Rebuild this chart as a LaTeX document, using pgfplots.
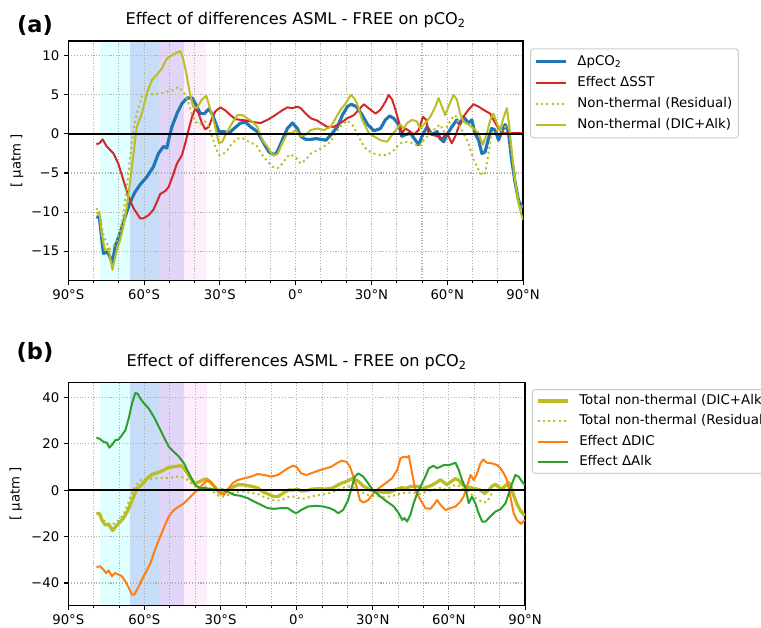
\documentclass[border=0pt]{standalone}
\usepackage{fontspec}
\setmainfont{DejaVu Sans}
\usepackage{pgfplots}
\pgfplotsset{compat=1.18}
\usepackage{pgfplotstable}

\definecolor{tabblue}{HTML}{1F77B4}
\definecolor{tabred}{HTML}{D62728}
\definecolor{tabolive}{HTML}{BCBD22}
\definecolor{taborange}{HTML}{FF7F0E}
\definecolor{tabgreen}{HTML}{2CA02C}
\definecolor{bandcyan}{HTML}{E0FFFF}
\definecolor{bandblue}{HTML}{C6DCF7}
\definecolor{bandpurple}{HTML}{E1D5F8}
\definecolor{bandpink}{HTML}{FCEEFB}
\definecolor{gridgray}{HTML}{B0B0B0}
\definecolor{legendedge}{HTML}{CCCCCC}

% zonal-mean differences, latitude vs value [uatm]
\pgfplotstableread{
lat val
-78.9 -10.6
-77.7 -10.7
-76.1 -15.3
-74.8 -15.1
-73.8 -15.5
-72.5 -16.6
-71.5 -14.4
-69.5 -12.7
-67.5 -10.6
-65.5 -8.7
-63.5 -7.4
-61.6 -6.5
-58.9 -5.5
-56.3 -4.2
-54.3 -2.5
-52.3 -1.6
-51.0 -1.8
-50.3 -0.8
-49.0 0.9
-47.0 2.6
-45.0 3.9
-43.0 4.6
-41.0 4.6
-39.7 3.9
-37.7 2.6
-36.1 2.6
-34.4 3.2
-33.1 2.6
-31.7 1.4
-30.4 0.3
-28.4 0.3
-26.4 0.1
-24.4 0.7
-21.8 1.4
-19.8 1.5
-17.8 0.9
-15.2 0.3
-12.6 -1.2
-10.6 -2.3
-8.6 -2.7
-7.3 -2.3
-5.3 -0.8
-3.3 0.7
-1.3 1.4
0.7 0.7
2.0 -0.3
4.0 -0.7
6.0 -0.7
8.0 -0.6
10.0 -0.7
12.0 -0.8
14.0 -0.1
16.5 0.9
18.5 2.4
20.5 3.5
22.0 3.8
24.0 3.5
26.0 2.6
28.5 1.2
31.0 0.4
33.6 0.7
35.5 1.8
37.2 2.3
38.8 2.0
40.8 1.2
42.0 -0.3
43.4 -0.1
45.4 0.1
47.4 -0.8
48.7 -1.4
50.0 -0.3
52.0 0.9
54.0 -0.1
56.0 0.3
57.2 -0.6
58.6 -1.0
59.9 -0.1
61.8 0.9
63.8 1.8
64.9 1.2
66.4 2.2
68.4 1.4
69.7 1.8
71.0 0.1
72.4 -0.8
73.7 -2.5
75.0 -2.3
76.3 -0.6
77.6 0.7
79.0 0.5
80.3 -0.8
81.6 0.3
82.9 1.2
84.2 0.3
85.5 -3.3
86.8 -6.1
88.2 -8.5
89.9 -9.5
}\dpco

\pgfplotstableread{
lat val
-78.9 -1.3
-77.7 -1.2
-76.4 -0.7
-74.8 -1.6
-72.1 -2.5
-70.2 -3.8
-68.2 -5.9
-66.2 -8.0
-64.2 -9.5
-61.6 -10.8
-60.2 -10.8
-58.2 -10.4
-56.3 -9.7
-54.9 -8.7
-53.6 -7.7
-51.6 -7.3
-50.3 -6.8
-49.0 -5.7
-47.0 -3.8
-45.0 -2.7
-43.7 -1.2
-42.4 0.5
-41.0 2.2
-39.7 3.3
-38.4 2.6
-37.1 1.4
-35.8 0.6
-34.4 0.9
-33.1 2.0
-31.8 2.9
-29.8 3.4
-27.8 3.0
-25.8 2.4
-23.8 1.9
-21.8 1.8
-19.2 1.7
-16.5 1.5
-13.9 1.4
-11.2 1.8
-8.6 2.3
-5.9 2.9
-3.3 3.4
-1.3 3.3
0.7 3.5
2.0 3.3
4.0 2.6
6.0 2.0
8.6 1.7
10.0 1.4
12.5 0.9
15.0 0.9
17.8 1.4
20.4 2.0
23.0 2.4
25.0 3.1
27.0 3.8
29.6 3.1
31.6 2.6
33.6 3.1
35.5 4.1
36.8 5.0
38.2 4.4
39.5 3.1
40.8 1.6
42.1 0.1
43.4 0.7
45.4 0.3
46.7 -0.1
48.7 0.5
50.4 2.2
51.7 1.8
52.6 0.1
54.0 -0.1
56.0 -0.3
57.9 -0.6
59.9 0.1
61.8 -1.2
63.2 -0.3
64.5 0.9
66.4 2.2
68.4 3.1
70.4 3.8
72.4 3.5
74.3 3.1
77.0 2.6
78.3 1.8
80.3 0.7
82.2 0.1
90.0 0.1
}\dsst

\pgfplotstableread{
lat val
-78.9 -10.2
-77.7 -10.0
-76.8 -12.7
-75.5 -14.9
-74.1 -14.7
-72.5 -17.4
-71.1 -15.3
-69.5 -13.6
-68.2 -11.9
-66.8 -9.3
-64.8 -4.2
-62.9 0.9
-60.9 2.6
-58.9 5.2
-56.9 6.9
-54.9 7.6
-52.9 8.4
-50.9 9.7
-49.0 10.1
-47.0 10.4
-45.6 10.6
-44.6 9.7
-43.3 7.8
-42.0 5.4
-40.6 3.5
-39.1 3.3
-37.1 4.4
-35.4 4.9
-33.7 3.1
-31.8 0.9
-30.4 -1.2
-29.1 -1.0
-27.1 0.3
-25.1 1.4
-23.1 2.4
-21.1 2.4
-19.1 2.0
-17.2 1.6
-15.2 0.9
-13.2 -0.8
-11.2 -1.6
-9.2 -2.7
-7.2 -2.6
-5.3 -1.2
-3.3 0.1
-1.3 0.1
0.0 0.5
2.0 -0.3
4.0 -0.1
6.0 0.5
8.6 0.7
11.2 0.5
13.9 0.9
15.8 2.0
17.8 3.1
19.8 3.9
21.8 5.0
23.1 4.6
24.3 3.9
26.3 1.8
29.0 0.1
30.9 -0.3
33.6 -0.8
36.2 -1.0
38.2 -0.1
40.1 0.7
41.4 1.2
42.8 0.7
44.1 1.4
46.1 1.8
48.0 1.6
49.3 0.7
51.3 1.4
53.3 2.2
55.3 3.5
56.6 4.6
57.9 3.5
59.2 2.4
60.5 3.5
62.5 5.0
63.8 4.4
65.1 2.6
66.4 1.6
68.4 1.2
70.4 0.7
72.4 0.1
74.1 -1.4
75.7 0.1
77.0 1.8
78.3 2.6
79.6 1.4
80.9 0.5
82.2 2.0
83.6 3.3
84.6 0.9
85.5 -2.1
86.8 -5.9
88.2 -8.9
89.9 -11.0
}\dnonthermal

\pgfplotstableread{
lat val
-78.8 -9.5
-77.5 -10.6
-76.1 -12.9
-74.8 -14.0
-73.5 -14.7
-72.1 -14.4
-70.8 -13.6
-69.5 -12.3
-68.2 -10.2
-66.8 -6.8
-65.5 -2.9
-64.2 0.5
-62.9 2.6
-60.9 4.8
-58.9 5.0
-56.3 5.1
-53.6 5.2
-51.0 5.4
-48.3 5.6
-46.6 6.0
-45.0 5.6
-43.7 5.0
-42.4 3.9
-41.0 2.4
-39.7 1.6
-38.4 1.2
-37.1 1.4
-35.8 1.6
-34.4 0.9
-33.1 -0.3
-31.8 -1.6
-30.4 -2.7
-29.1 -2.7
-27.1 -2.1
-25.1 -1.2
-23.1 -0.6
-21.1 -0.5
-19.1 -0.9
-17.2 -1.2
-15.2 -1.6
-13.2 -2.7
-11.2 -3.5
-9.2 -4.2
-7.2 -4.4
-5.3 -3.8
-3.3 -2.9
-2.0 -2.6
0.0 -3.0
2.0 -3.8
4.0 -3.3
6.0 -2.5
8.6 -2.1
11.2 -1.6
13.9 -1.0
15.8 0.1
17.8 1.0
20.4 1.7
22.4 1.2
24.3 0.1
26.3 -1.2
28.3 -2.1
30.9 -2.5
33.6 -2.7
36.2 -2.7
38.8 -2.1
41.4 -1.2
44.1 -1.0
46.7 -1.2
48.7 -1.6
50.7 -0.8
53.3 0.1
55.9 0.9
57.2 1.2
58.6 0.3
59.9 0.9
61.8 2.0
63.2 2.4
65.1 0.9
66.4 0.1
68.4 -1.2
70.4 -3.3
72.4 -4.6
73.7 -5.3
75.0 -5.0
76.3 -2.5
77.6 0.1
79.0 0.5
80.9 0.3
82.9 0.9
84.2 0.9
85.5 -2.5
86.8 -5.9
88.2 -8.5
89.9 -9.7
}\dresidual

\pgfplotstableread{
lat val
-78.9 -33.1
-77.5 -32.8
-76.1 -34.3
-75.1 -35.7
-74.1 -34.6
-72.8 -37.1
-71.5 -35.7
-70.2 -36.4
-68.9 -37.1
-67.5 -39.3
-66.2 -42.1
-64.9 -45.0
-64.0 -45.0
-62.9 -42.9
-61.6 -40.0
-60.3 -37.1
-58.9 -34.3
-57.6 -31.4
-56.3 -27.1
-54.3 -21.4
-52.4 -16.3
-50.4 -11.3
-48.4 -8.5
-46.4 -7.0
-44.4 -5.6
-42.4 -3.4
-40.5 -1.3
-39.1 0.1
-37.2 2.3
-35.2 4.2
-33.9 3.7
-31.9 0.9
-29.9 -1.3
-28.6 -2.0
-27.3 0.1
-25.3 3.0
-23.3 4.4
-20.6 5.2
-18.0 5.9
-15.4 7.0
-12.7 6.6
-10.1 5.9
-7.4 6.6
-5.5 8.0
-3.5 9.5
-1.5 10.6
-0.2 10.2
1.8 7.3
3.8 6.6
6.4 7.6
9.1 8.7
11.7 9.5
13.7 10.2
15.7 11.6
17.7 12.8
19.6 12.3
21.0 10.2
22.3 5.9
23.6 1.6
24.9 -4.2
26.2 -5.3
28.2 -4.2
30.2 -1.3
32.4 0.9
35.0 3.0
37.6 5.2
39.6 8.7
40.9 13.8
42.2 14.5
43.5 14.2
44.2 14.8
45.5 7.3
46.8 0.1
48.8 -4.2
50.7 -7.7
52.7 -8.0
54.0 -6.3
55.3 -4.2
56.7 -6.3
58.6 -8.5
60.6 -7.7
62.6 -7.0
64.5 -4.9
65.8 -2.7
67.1 1.6
68.5 6.6
69.8 4.4
71.1 7.3
72.4 11.6
73.5 13.3
75.0 11.9
77.0 11.6
79.0 10.9
80.3 9.5
81.6 7.3
82.9 4.4
84.2 -2.7
85.5 -9.9
86.8 -12.8
88.4 -14.5
89.9 -12.8
}\ddic

\pgfplotstableread{
lat val
-78.9 22.8
-77.5 22.1
-76.1 20.9
-74.8 20.5
-73.8 18.4
-72.8 19.5
-71.5 21.6
-70.2 21.9
-68.9 23.8
-67.5 25.9
-66.2 31.0
-64.9 37.4
-63.6 42.0
-62.7 41.7
-61.6 39.6
-60.3 37.7
-58.3 35.3
-56.3 31.7
-54.3 27.4
-52.4 23.1
-50.4 18.8
-48.4 16.6
-46.4 14.5
-44.4 11.6
-43.1 8.7
-41.8 5.9
-40.5 3.0
-39.1 1.6
-37.8 0.9
-35.8 0.9
-33.9 0.6
-31.2 0.1
-29.2 0.4
-27.3 -0.6
-24.6 -2.0
-22.0 -2.4
-19.3 -3.4
-16.7 -4.9
-14.0 -6.3
-11.4 -7.7
-8.8 -8.0
-6.1 -7.7
-3.5 -7.7
-1.5 -9.2
-0.2 -9.9
1.8 -8.5
4.5 -7.0
7.8 -6.7
10.4 -7.0
13.0 -7.7
15.0 -8.7
16.3 -9.9
18.3 -8.5
20.3 -4.2
21.6 0.9
22.9 5.9
24.3 7.3
26.2 5.9
28.2 3.0
30.0 0.1
33.0 -2.7
35.6 -4.9
38.3 -7.0
40.2 -9.9
41.6 -12.8
42.5 -12.0
43.5 -13.5
44.8 -10.6
46.1 -5.6
47.5 -1.3
48.8 1.6
50.7 5.9
52.1 9.5
54.0 10.6
55.3 9.5
56.7 10.2
58.0 10.9
60.0 10.9
61.2 11.3
62.6 11.9
63.9 8.7
65.2 4.4
66.5 0.9
67.8 -5.6
69.1 -2.7
70.4 -5.6
71.7 -9.9
73.1 -13.5
74.4 -13.5
76.3 -11.3
78.3 -9.2
80.3 -8.2
82.3 -5.6
83.6 -1.3
84.9 3.0
86.2 6.6
87.5 5.9
88.8 3.7
89.9 2.3
}\dalk

\pgfplotsset{
  legend image code/.code={\draw[#1] (0pt,0pt) -- (24pt,0pt);},
  panel/.style={
    scale only axis,
    anchor=north west,
    set layers,
    xmin=-90, xmax=90,
    xtick={-90,-60,-30,0,30,60,90},
    xticklabels={90°S,60°S,30°S,0°,30°N,60°N,90°N},
    minor xtick={-80,-70,-50,-40,-20,-10,10,20,40,50,70,80},
    grid=both,
    major grid style={gridgray, line width=0.85pt, dash pattern=on 0.85pt off 1.4pt},
    minor grid style={gridgray, line width=0.85pt, dash pattern=on 0.85pt off 1.4pt},
    tick align=outside,
    tick pos=left,
    major tick length=3.75pt,
    minor tick length=2.15pt,
    every tick/.style={black, line width=0.85pt},
    minor tick style={black, line width=0.65pt},
    axis line style={black, line width=0.9pt},
    tick label style={font=\fontsize{10.6}{12}\selectfont},
    title style={font=\fontsize{12.9}{15}\selectfont, anchor=base, yshift=7pt},
    ylabel style={font=\fontsize{10.6}{12}\selectfont, anchor=center},
    no markers,
    every axis plot/.append style={line join=round},
    legend cell align=left,
    legend style={anchor=north west, draw=legendedge, line width=0.8pt,
      rounded corners=2.5pt, fill=white,
      font=\fontsize{10.7}{13}\selectfont,
      inner xsep=3pt, column sep=6pt,
      nodes={inner sep=2pt, text height=8pt, text depth=2.5pt}},
  },
  band/.style={draw=none, fill=#1, forget plot, on layer=axis background},
}

\begin{document}
\begin{tikzpicture}
% ---------- panel (a) ----------
\begin{axis}[panel,
  at={(54.64pt,-32.8pt)}, width=363.8pt, height=191.8pt,
  ymin=-18.8, ymax=11.9,
  ytick={-15,-10,-5,0,5,10},
  yticklabels={−15,−10,−5,0,5,10},
  title={Effect of differences ASML - FREE on pCO\textsubscript{2}},
  ylabel={[ µatm ]},
  ylabel style={at={(axis description cs:-0.1127,0.5)}},
  legend style={at={(1.0154,0.9696)}, row sep=2.4pt, inner ysep=3pt},
]
\addplot[band=bandcyan] coordinates {(-77.5,-18.8) (-65.6,-18.8) (-65.6,11.9) (-77.5,11.9)} -- cycle;
\addplot[band=bandblue] coordinates {(-65.6,-18.8) (-54.1,-18.8) (-54.1,11.9) (-65.6,11.9)} -- cycle;
\addplot[band=bandpurple] coordinates {(-54.1,-18.8) (-44.3,-18.8) (-44.3,11.9) (-54.1,11.9)} -- cycle;
\addplot[band=bandpink] coordinates {(-44.3,-18.8) (-35.5,-18.8) (-35.5,11.9) (-44.3,11.9)} -- cycle;

\addplot[tabblue, line width=2.5pt] table[x=lat, y=val] {\dpco};
\addlegendentry{ΔpCO\textsubscript{2}}
\addplot[tabred, line width=1.6pt] table[x=lat, y=val] {\dsst};
\addlegendentry{Effect ΔSST}
\addplot[tabolive, line width=1.6pt, dash pattern=on 1.6pt off 2.6pt] table[x=lat, y=val] {\dresidual};
\addlegendentry{Non-thermal (Residual)}
\addplot[tabolive, line width=1.6pt] table[x=lat, y=val] {\dnonthermal};
\addlegendentry{Non-thermal (DIC+Alk)}
\addplot[black, line width=2pt, forget plot] coordinates {(-90,0) (90,0)};
\end{axis}
\node[font=\bfseries\fontsize{18}{21}\selectfont] at (28pt,-20pt) {(a)};

% ---------- panel (b) ----------
\begin{axis}[panel,
  at={(54.64pt,-305.84pt)}, width=365.4pt, height=178.7pt,
  ymin=-49.8, ymax=46.6,
  ytick={-40,-20,0,20,40},
  yticklabels={−40,−20,0,20,40},
  title={Effect of differences ASML - FREE on pCO\textsubscript{2}},
  ylabel={[ µatm ]},
  ylabel style={at={(axis description cs:-0.1144,0.5)}},
  legend style={at={(1.0147,0.970)}, row sep=1.7pt, inner ysep=2pt},
]
\addplot[band=bandcyan] coordinates {(-77.5,-49.8) (-65.6,-49.8) (-65.6,46.6) (-77.5,46.6)} -- cycle;
\addplot[band=bandblue] coordinates {(-65.6,-49.8) (-54.1,-49.8) (-54.1,46.6) (-65.6,46.6)} -- cycle;
\addplot[band=bandpurple] coordinates {(-54.1,-49.8) (-44.3,-49.8) (-44.3,46.6) (-54.1,46.6)} -- cycle;
\addplot[band=bandpink] coordinates {(-44.3,-49.8) (-35.5,-49.8) (-35.5,46.6) (-44.3,46.6)} -- cycle;

\addplot[tabolive, line width=2.6pt] table[x=lat, y=val] {\dnonthermal};
\addlegendentry{Total non-thermal (DIC+Alk)}
\addplot[tabolive, line width=1.6pt, dash pattern=on 1.6pt off 2.6pt] table[x=lat, y=val] {\dresidual};
\addlegendentry{Total non-thermal (Residual)}
\addplot[taborange, line width=1.6pt] table[x=lat, y=val] {\ddic};
\addlegendentry{Effect ΔDIC}
\addplot[tabgreen, line width=1.6pt] table[x=lat, y=val] {\dalk};
\addlegendentry{Effect ΔAlk}
\addplot[black, line width=1.5pt, forget plot] coordinates {(-90,0) (90,0)};
\end{axis}
\node[font=\bfseries\fontsize{18}{21}\selectfont] at (28pt,-282pt) {(b)};

\pgfresetboundingbox
\useasboundingbox (0pt,0pt) rectangle (608.8pt,-501.6pt);
\end{tikzpicture}
\end{document}
